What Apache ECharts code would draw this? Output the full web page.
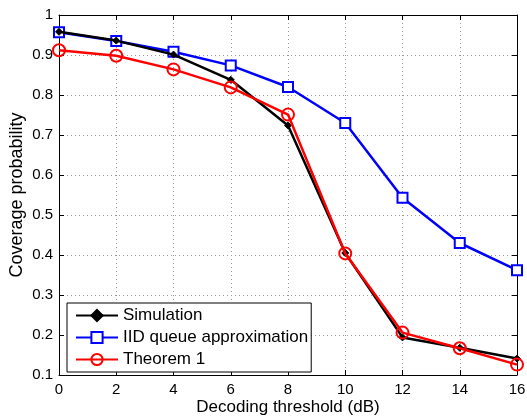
<!DOCTYPE html>
<html>
<head>
<meta charset="utf-8">
<script src="https://cdn.jsdelivr.net/npm/echarts@6/dist/echarts.min.js"></script>
<style>
  html, body { margin: 0; padding: 0; background: #fff; }
  #chart { width: 527px; height: 417px; }
</style>
</head>
<body>
<div id="chart"></div>
<script>
// Decoding threshold (dB)
const thresholds = [0, 2, 4, 6, 8, 10, 12, 14, 16];
// Coverage probability curves
const simulation = [0.958, 0.936, 0.901, 0.838, 0.724, 0.405, 0.194, 0.168, 0.141];
const iidQueue   = [0.957, 0.935, 0.908, 0.874, 0.820, 0.730, 0.543, 0.430, 0.362];
const theorem1   = [0.912, 0.898, 0.864, 0.819, 0.751, 0.404, 0.206, 0.167, 0.126];

const seriesNames = ['Simulation', 'IID queue approximation', 'Theorem 1'];
const fontFamily = 'Liberation Sans, Arial, sans-serif';

const pairs = (ys) => thresholds.map((x, i) => [x, ys[i]]);

const chart = echarts.init(document.getElementById('chart'));

const gridLine = { show: true, lineStyle: { color: '#999', type: [1, 3], width: 1 } };
const axisLabel = { color: '#000', fontSize: 15, fontFamily: fontFamily };

chart.setOption({
  animation: false,
  backgroundColor: '#fff',
  grid: { left: 59, right: 10, top: 15, bottom: 42, containLabel: false, outerBoundsMode: 'none' },
  xAxis: [
    {
      type: 'value', min: 0, max: 16, interval: 2, position: 'bottom',
      name: 'Decoding threshold (dB)', nameLocation: 'middle', nameGap: 24, nameMoveOverlap: false,
      nameTextStyle: { color: '#000', fontSize: 17, fontFamily: fontFamily },
      axisLine: { show: true, lineStyle: { color: '#000', width: 1 } },
      axisTick: { show: true, inside: true, length: 5, lineStyle: { color: '#000' } },
      axisLabel: Object.assign({ margin: 7 }, axisLabel),
      splitLine: gridLine
    },
    {
      type: 'value', min: 0, max: 16, interval: 2, position: 'top',
      axisLine: { show: true, onZero: false, lineStyle: { color: '#000', width: 1 } },
      axisTick: { show: true, inside: true, length: 5, lineStyle: { color: '#000' } },
      axisLabel: { show: false },
      splitLine: { show: false }
    }
  ],
  yAxis: [
    {
      type: 'value', min: 0.1, max: 1, interval: 0.1, position: 'left',
      name: 'Coverage probability', nameLocation: 'middle', nameGap: 33, nameRotate: 90, nameMoveOverlap: false,
      nameTextStyle: { color: '#000', fontSize: 18, fontFamily: fontFamily },
      axisLine: { show: true, lineStyle: { color: '#000', width: 1 } },
      axisTick: { show: true, inside: true, length: 5, lineStyle: { color: '#000' } },
      axisLabel: Object.assign({ margin: 6, formatter: (v) => String(+v.toFixed(1)) }, axisLabel),
      splitLine: gridLine
    },
    {
      type: 'value', min: 0.1, max: 1, interval: 0.1, position: 'right',
      axisLine: { show: true, onZero: false, lineStyle: { color: '#000', width: 1 } },
      axisTick: { show: true, inside: true, length: 5, lineStyle: { color: '#000' } },
      axisLabel: { show: false },
      splitLine: { show: false }
    }
  ],
  legend: {
    orient: 'vertical',
    left: 67, top: 303,
    padding: [4, 3, 4, 8],
    itemGap: 5,
    itemWidth: 42, itemHeight: 14,
    backgroundColor: '#fff',
    borderColor: '#000', borderWidth: 1,
    textStyle: { color: '#000', fontSize: 17, lineHeight: 16, fontFamily: fontFamily },
    data: seriesNames
  },
  series: [
    {
      name: seriesNames[0], type: 'line', data: pairs(simulation),
      color: '#000',
      lineStyle: { color: '#000', width: 2.5 },
      symbol: 'diamond', symbolSize: 7,
      itemStyle: { color: '#000', borderColor: '#000', borderWidth: 1 },
      z: 3
    },
    {
      name: seriesNames[1], type: 'line', data: pairs(iidQueue),
      color: '#0000ff',
      lineStyle: { color: '#0000ff', width: 2.5 },
      symbol: 'rect', symbolSize: 10,
      itemStyle: { color: '#fff', borderColor: '#0000ff', borderWidth: 2 },
      z: 2
    },
    {
      name: seriesNames[2], type: 'line', data: pairs(theorem1),
      color: '#ff0000',
      lineStyle: { color: '#ff0000', width: 2.5 },
      symbol: 'circle', symbolSize: 12,
      itemStyle: { color: 'rgba(255,255,255,0)', borderColor: '#ff0000', borderWidth: 2 },
      z: 4
    }
  ]
});
</script>
</body>
</html>
